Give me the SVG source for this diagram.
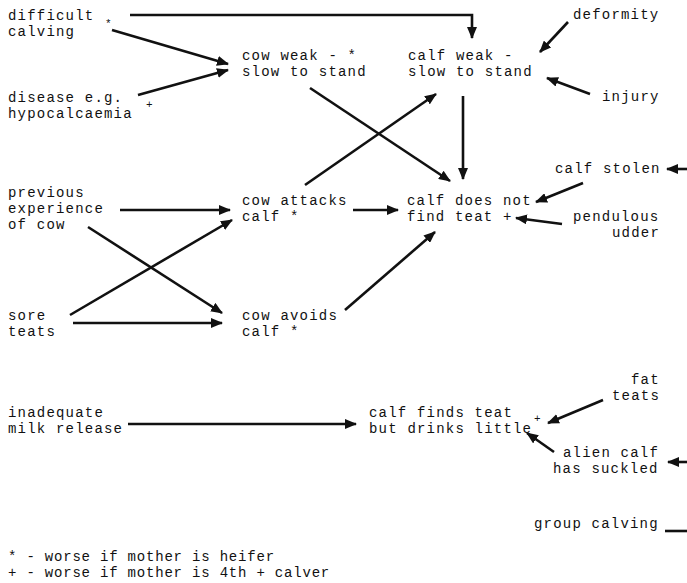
<svg xmlns="http://www.w3.org/2000/svg" width="687" height="583" viewBox="0 0 687 583">
<defs>
<style>
text{font-family:"Liberation Mono","DejaVu Sans Mono",monospace;font-size:14px;letter-spacing:1.2px;fill:#111;}
.sm{font-size:11px;letter-spacing:0;}
.lg{letter-spacing:0.8px;}
.c line,.c path{stroke:#111;stroke-width:2.6;fill:none;}
.a{marker-end:url(#ah);}
</style>
<marker id="ah" markerWidth="12" markerHeight="10" refX="11" refY="5" orient="auto" markerUnits="userSpaceOnUse">
<path d="M0,0 L12,5 L0,10 z" fill="#111"/>
</marker>
</defs>
<rect width="687" height="583" fill="#fff"/>
<g class="c" id="connectors">
<path class="a" d="M130,15 H472 V38"/>
<line class="a" x1="112" y1="30" x2="228" y2="64"/>
<line class="a" x1="138" y1="95" x2="228" y2="70"/>
<line class="a" x1="568" y1="22" x2="540" y2="52"/>
<line class="a" x1="590" y1="94" x2="547" y2="78"/>
<line class="a" x1="310" y1="88" x2="450" y2="181"/>
<line class="a" x1="305" y1="185" x2="436" y2="94"/>
<line class="a" x1="463" y1="96" x2="463" y2="179"/>
<line class="a" x1="353" y1="210" x2="398" y2="210"/>
<line class="a" x1="120" y1="210" x2="230" y2="210"/>
<line class="a" x1="88" y1="227" x2="222" y2="313"/>
<line class="a" x1="70" y1="315" x2="232" y2="220"/>
<line class="a" x1="73" y1="323" x2="222" y2="323"/>
<line class="a" x1="345" y1="310" x2="435" y2="232"/>
<line class="a" x1="583" y1="183" x2="536" y2="202"/>
<line class="a" x1="562" y1="224" x2="516" y2="218"/>
<line class="a" x1="687" y1="169" x2="667" y2="169"/>
<line class="a" x1="128" y1="424" x2="356" y2="424"/>
<line class="a" x1="603" y1="400" x2="548" y2="423"/>
<line class="a" x1="554" y1="452" x2="527" y2="433"/>
<line class="a" x1="687" y1="462" x2="668" y2="462"/>
<line x1="665" y1="531" x2="687" y2="531"/>
</g>
<g id="difficult-calving"><text x="8" y="20">difficult</text><text x="8" y="36">calving</text><text class="sm" x="105" y="27">*</text></g>
<g id="disease"><text x="8" y="102">disease e.g.</text><text x="8" y="118">hypocalcaemia</text><text class="sm" x="146" y="108">+</text></g>
<g id="cow-weak"><text x="242" y="60">cow weak - *</text><text x="242" y="76">slow to stand</text></g>
<g id="calf-weak"><text x="408" y="60">calf weak -</text><text x="408" y="76">slow to stand</text></g>
<g id="deformity"><text x="573" y="19">deformity</text></g>
<g id="injury"><text x="602" y="101">injury</text></g>
<g id="previous-experience"><text x="8" y="197">previous</text><text x="8" y="213">experience</text><text x="8" y="229">of cow</text></g>
<g id="cow-attacks"><text x="242" y="205">cow attacks</text><text x="242" y="221">calf *</text></g>
<g id="calf-does-not-find-teat"><text x="407" y="205">calf does not</text><text x="407" y="221">find teat +</text></g>
<g id="calf-stolen"><text x="555" y="173">calf stolen</text></g>
<g id="pendulous-udder"><text x="573" y="221">pendulous</text><text x="612" y="237">udder</text></g>
<g id="sore-teats"><text x="8" y="320">sore</text><text x="8" y="336">teats</text></g>
<g id="cow-avoids"><text x="242" y="320">cow avoids</text><text x="242" y="336">calf *</text></g>
<g id="inadequate-milk-release"><text x="8" y="417">inadequate</text><text x="8" y="433">milk release</text></g>
<g id="calf-finds-teat"><text x="369" y="417">calf finds teat</text><text x="369" y="433">but drinks little</text><text class="sm" x="534" y="422">+</text></g>
<g id="fat-teats"><text x="631" y="384">fat</text><text x="612" y="400">teats</text></g>
<g id="alien-calf"><text x="563" y="457">alien calf</text><text x="553" y="473">has suckled</text></g>
<g id="group-calving"><text x="534" y="528">group calving</text></g>
<g id="legend"><text class="lg" x="8" y="561">* - worse if mother is heifer</text><text class="lg" x="8" y="577">+ - worse if mother is 4th + calver</text></g>
</svg>
